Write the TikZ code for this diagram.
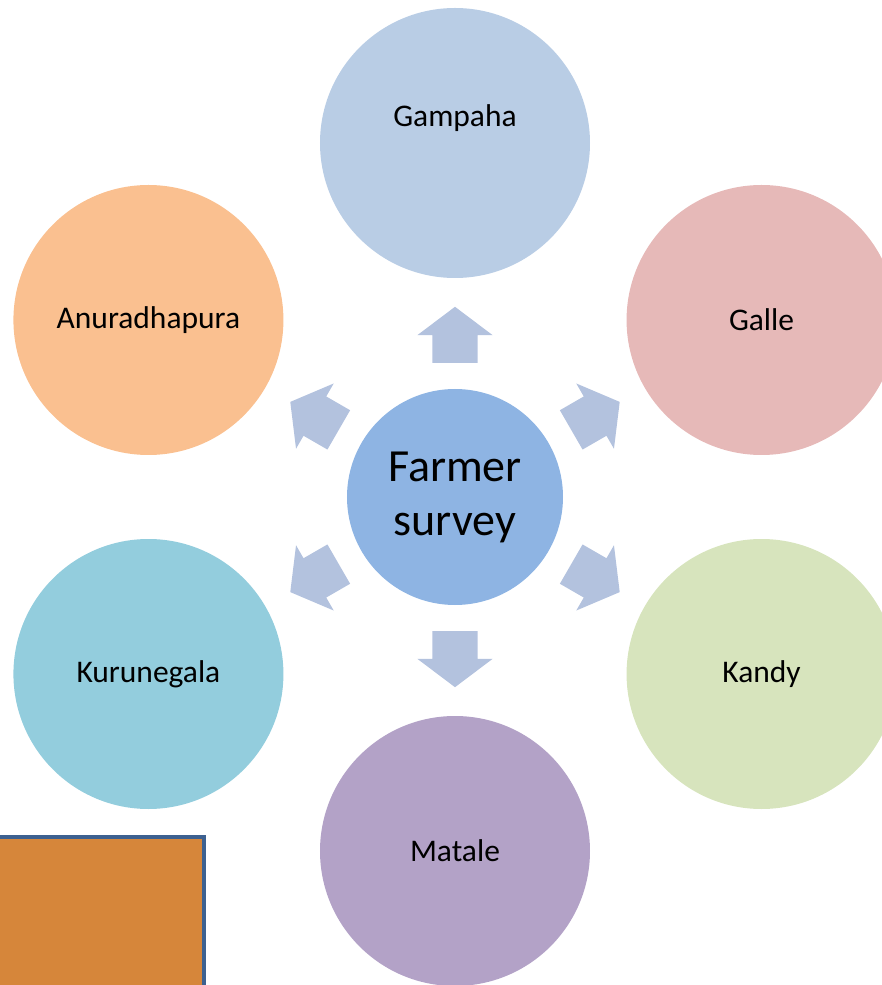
\documentclass[tikz,border=0pt]{standalone}
\usepackage{fontspec}
\setmainfont{Carlito}
\usepackage{tikz}
\usetikzlibrary{shapes.arrows, positioning}
\definecolor{hubblue}{RGB}{142,180,227}
\definecolor{spokeblue}{RGB}{179,194,222}
\definecolor{gampahablue}{RGB}{185,205,229}
\definecolor{gallered}{RGB}{230,185,184}
\definecolor{kandygreen}{RGB}{215,228,189}
\definecolor{mataleviolet}{RGB}{179,162,199}
\definecolor{kurunegalacyan}{RGB}{147,205,221}
\definecolor{anuradhapuraorange}{RGB}{250,192,144}
\definecolor{boxorange}{RGB}{214,134,58}
\definecolor{boxedge}{RGB}{61,97,144}

\begin{document}
\begin{tikzpicture}[x=1pt, y=1pt,
        district/.style={circle, draw=none, inner sep=0pt, minimum size=270pt,
            font=\fontsize{31.5pt}{38pt}\selectfont},
        hubstyle/.style={circle, draw=none, fill=hubblue, inner sep=0pt, minimum size=216pt,
            align=center, font=\fontsize{46pt}{54pt}\selectfont},
        spoke/.style={single arrow, draw=none, fill=spokeblue, inner xsep=0pt, inner ysep=22.5pt,
            single arrow head extend=15pt, single arrow tip angle=106,
            minimum height=56pt, anchor=tail}]
            \useasboundingbox (-455,-488) rectangle (427,497);
            \clip (-455,-488) rectangle (427,497);

            \node[hubstyle] (hub) at (0,0) {Farmer\\survey};

            \node[district, fill=gampahablue, label={[font=\fontsize{31.5pt}{38pt}\selectfont, yshift=25pt]center:Gampaha}] (gampaha) at (90:354) {};
            \node[district, fill=gallered] (galle) at (30:354) {Galle};
            \node[district, fill=kandygreen] (kandy) at (-30:354) {Kandy};
            \node[district, fill=mataleviolet] (matale) at (-90:354) {Matale};
            \node[district, fill=kurunegalacyan] (kurunegala) at (-150:354) {Kurunegala};
            \node[district, fill=anuradhapuraorange] (anuradhapura) at (150:354) {Anuradhapura};

            \node[spoke, rotate=90] (togampaha) at (90:134) {};
            \node[spoke, rotate=30] (togalle) at (30:134) {};
            \node[spoke, rotate=-30] (tokandy) at (-30:134) {};
            \node[spoke, rotate=-90] (tomatale) at (-90:134) {};
            \node[spoke, rotate=-150] (tokurunegala) at (-150:134) {};
            \node[spoke, rotate=150] (toanuradhapura) at (150:134) {};

            \draw[line width=4pt, draw=boxedge, fill=boxorange] (-470,-340) rectangle (-251,-500);
        \end{tikzpicture}
\end{document}
